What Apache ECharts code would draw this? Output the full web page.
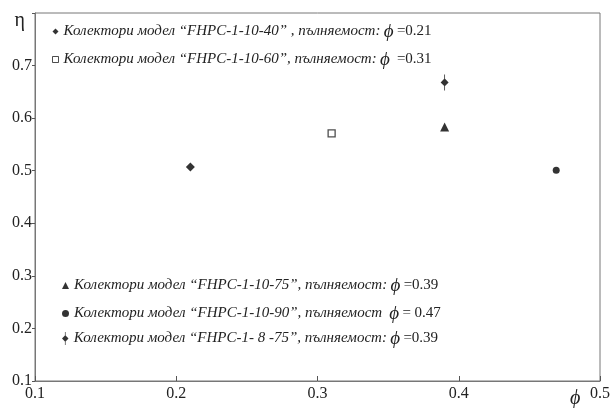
<!DOCTYPE html>
<html>
<head>
<meta charset="utf-8">
<script src="https://cdn.jsdelivr.net/npm/echarts@6/dist/echarts.min.js"></script>
<style>
  html, body { margin: 0; padding: 0; background: #fff; }
  #main { width: 610px; height: 408px; }
</style>
</head>
<body>
<div id="main"></div>
<script>
// data
var xTicks = [0.1, 0.2, 0.3, 0.4, 0.5];
var yTicks = [0.1, 0.2, 0.3, 0.4, 0.5, 0.6, 0.7, 0.8];

var names = [
    'Колектори модел “FHPC-1-10-40” , пълняемост:',
    'Колектори модел “FHPC-1-10-60”, пълняемост:',
    'Колектори модел “FHPC-1-10-75”, пълняемост:',
    'Колектори модел “FHPC-1-10-90”, пълняемост ',
    'Колектори модел “FHPC-1- 8 -75”, пълняемост:'
];
var fillValues = ['=0.21', ' =0.31', '=0.39', '= 0.47', '=0.39'];

var fhpc40 = [[0.21, 0.507]];
var fhpc60 = [[0.31, 0.571]];
var fhpc75 = [[0.39, 0.583]];
var fhpc90 = [[0.469, 0.501]];
var fhpc8_75 = [[0.39, 0.668]];

var serif = '"Liberation Serif", "DejaVu Serif", serif';
var txt = '#222';

var diamondBar = 'path://M-0.4,-8 L0.4,-8 L0.4,-3.6 L4,0 L0.4,3.6 L0.4,8 L-0.4,8 L-0.4,3.6 L-4,0 L-0.4,-3.6 Z';

var myChart = echarts.init(document.getElementById('main'));

function legendFmt(name) {
    var i = names.indexOf(name);
    return '{t|' + name + '} {p|ϕ} {v|' + fillValues[i] + '}';
}
var legendRich = {
    t: { fontFamily: serif, fontStyle: 'italic', fontSize: 15, color: txt },
    p: { fontFamily: serif, fontStyle: 'italic', fontSize: 19, color: txt },
    v: { fontFamily: serif, fontSize: 15, color: txt }
};

function makeLegend(list, left, top, w, h) {
    return {
        data: list,
        orient: 'vertical',
        left: left,
        top: top,
        itemGap: 9,
        itemWidth: w,
        itemHeight: h,
        itemStyle: { borderWidth: 1 },
        formatter: legendFmt,
        textStyle: { rich: legendRich }
    };
}

var option = {
    animation: false,
    backgroundColor: '#fff',
    grid: {
        left: 35,
        right: 10,
        top: 13,
        bottom: 27,
        outerBoundsMode: 'none',
        show: true,
        borderColor: '#777',
        borderWidth: 1
    },
    legend: [
        makeLegend([names[0], names[1]], 47, 17, 6, 6),
        makeLegend([names[2], names[3]], 57, 271, 7, 7),
        makeLegend([names[4]], 57, 324, 7, 13)
    ],
    xAxis: {
        type: 'value',
        min: 0.1,
        max: 0.5,
        interval: 0.1,
        name: 'ϕ',
        nameLocation: 'end',
        nameGap: -30,
        nameTextStyle: {
            fontFamily: serif, fontStyle: 'italic', fontSize: 20, color: txt,
            verticalAlign: 'top', padding: [8, 0, 0, 0]
        },
        splitLine: { show: false },
        axisLine: { lineStyle: { color: '#777' } },
        axisTick: { inside: true, length: 5, lineStyle: { color: '#555' } },
        axisLabel: {
            fontFamily: serif, fontSize: 16, color: txt, margin: 5,
            formatter: function (v) { return v.toFixed(1); }
        }
    },
    yAxis: {
        type: 'value',
        min: 0.1,
        max: 0.8,
        interval: 0.1,
        name: 'η',
        nameLocation: 'end',
        nameGap: -18,
        nameTextStyle: {
            fontFamily: serif, fontSize: 20, color: txt,
            align: 'right', padding: [0, 10, 0, 0]
        },
        splitLine: { show: false },
        axisLine: { lineStyle: { color: '#777' } },
        axisTick: { inside: false, length: 3, lineStyle: { color: '#555' } },
        axisLabel: {
            fontFamily: serif, fontSize: 16, color: txt, margin: 3,
            formatter: function (v) {
                return Math.abs(v - 0.8) < 1e-6 ? '' : v.toFixed(1);
            }
        }
    },
    series: [
        {
            name: names[0], type: 'scatter', data: fhpc40,
            symbol: 'diamond', symbolSize: 9,
            itemStyle: { color: '#000' }
        },
        {
            name: names[1], type: 'scatter', data: fhpc60,
            symbol: 'rect', symbolSize: 7,
            itemStyle: { color: '#fff', borderColor: '#222', borderWidth: 1.3 }
        },
        {
            name: names[2], type: 'scatter', data: fhpc75,
            symbol: 'triangle', symbolSize: 9,
            itemStyle: { color: '#000' }
        },
        {
            name: names[3], type: 'scatter', data: fhpc90,
            symbol: 'circle', symbolSize: 7,
            itemStyle: { color: '#000' }
        },
        {
            name: names[4], type: 'scatter', data: fhpc8_75,
            symbol: diamondBar, symbolSize: [8, 16],
            itemStyle: { color: '#000' }
        }
    ]
};

myChart.setOption(option);
</script>
</body>
</html>
